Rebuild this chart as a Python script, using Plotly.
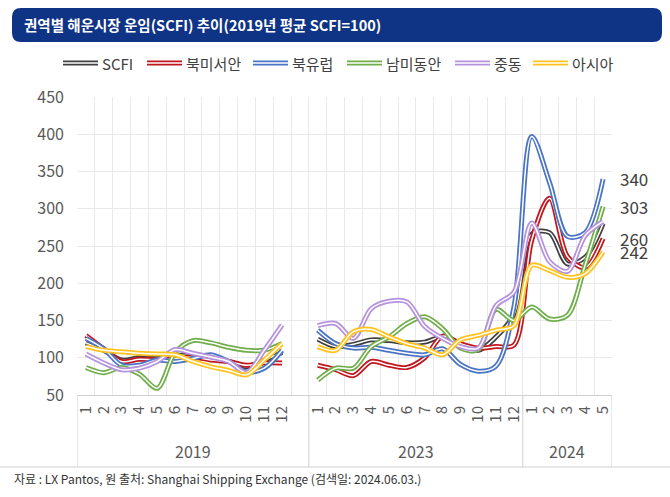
import plotly.graph_objects as go

# ---------------- data ----------------
years = ["2019", "2023", "2024"]
months_2019 = ["1", "2", "3", "4", "5", "6", "7", "8", "9", "10", "11", "12"]
months_2023 = ["1", "2", "3", "4", "5", "6", "7", "8", "9", "10", "11", "12"]
months_2024 = ["1", "2", "3", "4", "5"]

series_names = ["SCFI", "북미서안", "북유럽", "남미동안", "중동", "아시아"]

scfi = [120, 110, 97, 100, 99, 103, 103, 101, 95, 88, 97, 107,
        125, 115, 118, 124, 123, 120, 121, 128, 117, 110, 128, 158,
        266, 268, 226, 235, 280]
us_west = [130, 112, 95, 98, 97, 99, 101, 97, 95, 90, 93, 93,
           90, 84, 76, 95, 90, 87, 100, 129, 119, 113, 115, 117,
           258, 314, 236, 221, 260]
n_europe = [126, 112, 90, 90, 97, 95, 99, 104, 95, 81, 86, 110,
            137, 119, 113, 114, 110, 106, 104, 112, 91, 82, 89, 168,
            397, 335, 263, 268, 340]
s_america = [87, 80, 87, 78, 59, 107, 123, 120, 114, 110, 110, 119,
             70, 86, 86, 115, 128, 146, 155, 139, 113, 111, 165, 150,
             168, 152, 157, 225, 303]
middle_east = [105, 93, 84, 86, 95, 111, 106, 101, 95, 80, 110, 144,
               143, 146, 126, 166, 176, 175, 142, 126, 115, 113, 170, 188,
               281, 229, 216, 264, 283]
asia = [115, 110, 108, 106, 105, 104, 95, 88, 83, 77, 97, 119,
        115, 110, 135, 138, 128, 119, 113, 104, 124, 130, 137, 143,
        224, 217, 208, 213, 242]

series_values = [scfi, us_west, n_europe, s_america, middle_east, asia]
labeled_series = [2, 3, 1, 5]  # series whose last value is written at the right

# ---------------- styling ----------------
colors = ["#404040", "#c0171f", "#4a74c4", "#6fae4a", "#b592dd", "#ffc31f"]
FONT = "Noto Sans CJK KR"
TXT = "#595959"
GRID = "#e9e9e9"
AXIS = "#d0d0d0"
LW, CW = 5.0, 1.5  # compound line: outer width, white core width

W, H = 670, 497
L, R, T, B = 77, 612, 97, 395


def xp(px):
    return (px - L) / (R - L)


def yp(py):
    return (B - py) / (B - T)


# ---------------- category positions (empty slot after 2019) ----------------
groups = [(years[0], months_2019, 1), (years[1], months_2023, 0), (years[2], months_2024, 0)]
tick_pos, tick_txt, group_bounds = [], [], []
pos = 0
break_after = []
for yr, mons, gap in groups:
    start = pos
    for m in mons:
        tick_pos.append(pos)
        tick_txt.append(m)
        pos += 1
    if gap:
        break_after.append(len(tick_pos))
    pos += gap
    group_bounds.append((yr, start - 0.5, pos - 0.5))
n_slots = pos


def line_xy(vals):
    xs, ys = [], []
    for i, (x, v) in enumerate(zip(tick_pos, vals)):
        if i in break_after:
            xs.append(None)
            ys.append(None)
        xs.append(x)
        ys.append(v)
    return xs, ys


fig = go.Figure()
for name, vals, col in zip(series_names, series_values, colors):
    xs, ys = line_xy(vals)
    fig.add_trace(go.Scatter(
        x=xs, y=ys, mode="lines", name=name,
        line=dict(color=col, width=LW, shape="spline", smoothing=0.9),
        showlegend=False, hoverinfo="skip"))
    fig.add_trace(go.Scatter(
        x=xs, y=ys, mode="lines",
        line=dict(color="white", width=CW, shape="spline", smoothing=0.9),
        showlegend=False, hoverinfo="skip"))

shapes = []
annotations = []

# title bar (rounded)
x0, x1, y0, y1, r = 12, 662, 8, 42, 9
path = (f"M {xp(x0 + r)},{yp(y0)} L {xp(x1 - r)},{yp(y0)} Q {xp(x1)},{yp(y0)} {xp(x1)},{yp(y0 + r)} "
        f"L {xp(x1)},{yp(y1 - r)} Q {xp(x1)},{yp(y1)} {xp(x1 - r)},{yp(y1)} "
        f"L {xp(x0 + r)},{yp(y1)} Q {xp(x0)},{yp(y1)} {xp(x0)},{yp(y1 - r)} "
        f"L {xp(x0)},{yp(y0 + r)} Q {xp(x0)},{yp(y0)} {xp(x0 + r)},{yp(y0)} Z")
shapes.append(dict(type="path", path=path, xref="paper", yref="paper",
                   fillcolor="#0f3385", line=dict(width=0), layer="above"))
annotations.append(dict(text="<b>권역별 해운시장 운임(SCFI) 추이(2019년 평균 SCFI=100)</b>",
                        x=xp(22), y=yp(25), xref="paper", yref="paper",
                        xanchor="left", yanchor="middle", showarrow=False,
                        font=dict(family=FONT, size=14.5, color="white")))

# custom legend (double-line swatches)
legend_x = [63, 147, 253, 347, 455, 533]
legend_y = 63
for name, col, lx in zip(series_names, colors, legend_x):
    shapes.append(dict(type="line", xref="paper", yref="paper",
                       x0=xp(lx), x1=xp(lx + 35), y0=yp(legend_y), y1=yp(legend_y),
                       line=dict(color=col, width=LW)))
    shapes.append(dict(type="line", xref="paper", yref="paper",
                       x0=xp(lx), x1=xp(lx + 35), y0=yp(legend_y), y1=yp(legend_y),
                       line=dict(color="white", width=CW)))
    annotations.append(dict(text=name, x=xp(lx + 37), y=yp(legend_y), xref="paper", yref="paper",
                            xanchor="left", yanchor="middle", showarrow=False,
                            font=dict(family=FONT, size=15, color="#404040")))

# end-value labels
for idx in labeled_series:
    v = series_values[idx][-1]
    annotations.append(dict(text=str(round(v)), x=1, y=v, xref="paper", yref="y",
                            xanchor="left", yanchor="middle", xshift=6, showarrow=False,
                            font=dict(family=FONT, size=17, color="#404040")))

# group dividers and year labels under the axis
for yr, b0, b1 in group_bounds:
    annotations.append(dict(text=yr, x=(b0 + b1) / 2, y=yp(451), xref="x", yref="paper",
                            xanchor="center", yanchor="middle", showarrow=False,
                            font=dict(family=FONT, size=16, color=TXT)))
div_positions = sorted(set([b for _, b0, b1 in group_bounds for b in (b0, b1)]))
for b in div_positions:
    shapes.append(dict(type="line", xref="x", yref="paper", x0=b, x1=b,
                       y0=0, y1=yp(467), line=dict(color=AXIS, width=1)))

# footer separator and source
shapes.append(dict(type="line", xref="paper", yref="paper",
                   x0=xp(0), x1=xp(670), y0=yp(467), y1=yp(467),
                   line=dict(color=AXIS, width=1)))
annotations.append(dict(text="자료 : LX Pantos, 원 출처: Shanghai Shipping Exchange (검색일: 2024.06.03.)",
                        x=xp(12), y=yp(478), xref="paper", yref="paper",
                        xanchor="left", yanchor="middle", showarrow=False,
                        font=dict(family=FONT, size=12, color="#333333")))

fig.update_layout(
    width=W, height=H,
    margin=dict(l=L, r=W - R, t=T, b=H - B, pad=0),
    paper_bgcolor="white", plot_bgcolor="white",
    font=dict(family=FONT, color=TXT),
    showlegend=False,
    shapes=shapes, annotations=annotations,
    xaxis=dict(range=[-0.5, n_slots - 0.5], tickmode="array", tickvals=tick_pos, ticktext=tick_txt,
               tickangle=-90, showgrid=False, zeroline=False, ticks="",
               showline=True, linecolor=AXIS, linewidth=1, ticklabelstandoff=4,
               tickfont=dict(family=FONT, size=15, color=TXT),
               minor=dict(tick0=-0.5, dtick=1, showgrid=True, gridcolor=GRID, ticks="")),
    yaxis=dict(range=[50, 450], tick0=50, dtick=50, showgrid=True, gridcolor=GRID,
               zeroline=False, showline=False, ticks="", ticklabelstandoff=12,
               tickfont=dict(family=FONT, size=16, color=TXT)),
)

fig.write_html("out.html", config={"displayModeBar": False},
               post_script="document.body.style.margin='0px';")
